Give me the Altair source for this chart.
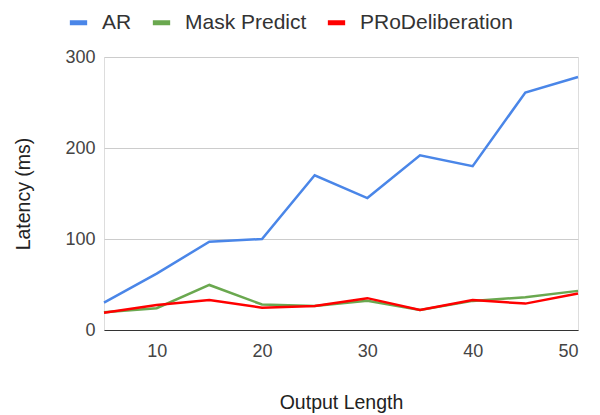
import altair as alt
import pandas as pd

lengths = [5, 10, 15, 20, 25, 30, 35, 40, 45, 50]
ar = [30, 62, 97, 100, 170, 145, 192, 180, 261, 278]
mask_predict = [19.5, 24, 49.5, 28, 26.5, 32, 22, 32, 36, 43]
pro_delib = [19, 27.5, 33, 24.5, 26.5, 35, 22, 33, 29, 40]

series_names = ["AR", "Mask Predict", "PRoDeliberation"]
colors = ["#4a86e8", "#6aa84f", "#ff0000"]

rows = []
for name, vals in zip(series_names, [ar, mask_predict, pro_delib]):
    for x, v in zip(lengths, vals):
        rows.append({"Output Length": x, "Latency": v, "Series": name})
df = pd.DataFrame(rows)

FONT = "Liberation Sans, Arial, sans-serif"

chart = alt.Chart(df).mark_line(strokeWidth=2.5).encode(
    x=alt.X("Output Length:Q",
            scale=alt.Scale(domain=[5, 50], nice=False, zero=False),
            axis=alt.Axis(title="Output Length", values=[10, 20, 30, 40, 50],
                          grid=False, ticks=False, domain=True, domainColor="#333333",
                          domainWidth=1, labelFontSize=18, labelColor="#444444",
                          labelPadding=12, titleFontSize=19.5, titleFontWeight="normal",
                          titleColor="#222222", titlePadding=33, labelFont=FONT,
                          titleFont=FONT)),
    y=alt.Y("Latency:Q",
            scale=alt.Scale(domain=[0, 300], nice=False),
            axis=alt.Axis(title="Latency (ms)", values=[0, 100, 200, 300],
                          grid=True, gridColor="#cccccc", gridWidth=1, ticks=False,
                          domain=False, labelFontSize=18, labelColor="#444444",
                          labelPadding=9, titleFontSize=19.5, titleFontWeight="normal",
                          titleColor="#222222", titlePadding=31, labelFont=FONT,
                          titleFont=FONT)),
    color=alt.Color("Series:N",
                    scale=alt.Scale(domain=series_names, range=colors),
                    legend=alt.Legend(title=None, orient="none", direction="horizontal",
                                      legendX=-37, legendY=-46, symbolType="stroke",
                                      symbolSize=300, symbolStrokeWidth=5,
                                      labelFontSize=21, labelColor="#333333",
                                      labelFont=FONT, labelOffset=12,
                                      columnPadding=10, columns=3)),
).properties(
    width=474, height=273,
    autosize=alt.AutoSizeParams(type="none"),
    padding={"left": 96, "top": 49, "right": 6, "bottom": 84},
).configure_view(stroke=None).configure(font=FONT)

chart.save("out.html", embed_options={"renderer": "svg", "actions": False})
